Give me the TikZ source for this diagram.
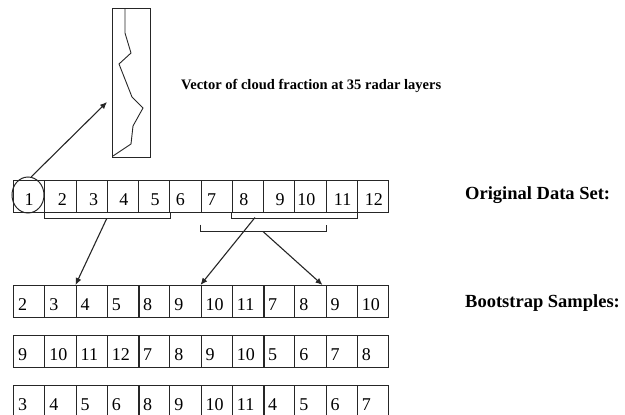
\documentclass[tikz,border=0pt]{standalone}
\usepackage{fontspec}
\setmainfont{Liberation Serif}
\usetikzlibrary{shapes.geometric,arrows.meta}
\begin{document}
\begin{tikzpicture}[x=1pt,y=-1pt,
  ln/.style={draw=black!85,line width=1pt},
  cell/.style={ln,minimum width=31.25pt,minimum height=31.5pt,inner sep=0pt,anchor=north west},
  num/.style={font=\fontsize{18}{18}\selectfont,inner sep=0pt},
  lab/.style={font=\bfseries\fontsize{18.5}{20}\selectfont,anchor=west,inner sep=0pt},
  arr/.style={ln,line width=1.1pt,-{Latex[length=7pt,width=6pt]}}]
\useasboundingbox (0,0) rectangle (625,415);
% vector box
\node[ln,minimum width=38pt,minimum height=149pt,inner sep=0pt,anchor=north west] (vec) at (112,8) {};
\draw[ln,line width=0.9pt] (125,8) -- (125,33) -- (131,53) -- (119,64) -- (132,97) -- (143,108) -- (133,126) -- (131,144) -- (113,156);
\node[font=\bfseries\fontsize{14.5}{16}\selectfont,anchor=west,inner sep=0pt] (vt) at (181,86) {Vector of cloud fraction at 35 radar layers};
% original row
\foreach \i in {1,...,12} \node[cell] (o\i) at ({13+31.25*(\i-1)},180) {};
\foreach \i/\t/\dx in {1/1/0,2/2/2,3/3/2,4/4/1,5/5/1,6/6/-5,7/7/-5,8/8/-4,9/9/1,10/10/-4,11/11/1,12/12/1}
  \node[num] (on\i) at ([xshift=\dx pt,yshift=-3pt]o\i.center) {\t};
\node[ellipse,ln,minimum width=32pt,minimum height=36pt,inner sep=0pt] (c1) at (28,195) {};
\coordinate (vtip) at (107,102);
\draw[arr] (c1.80) -- (vtip);
% brackets
\draw[ln] (o2.south west) -- ++(0,6) -| (o5.south east);
\draw[ln] (o8.south west) -- ++(0,6) -| (o11.south east);
\draw[ln] ([yshift=-12pt]o7.south west) -- ++(0,7) -| ([yshift=-12pt]o10.south east);
\coordinate (s1) at ([yshift=-6pt]o4.south west);
\coordinate (s2) at (255,217.5);
\coordinate (s3) at ([yshift=-19pt]o9.south west);
% bootstrap rows
\foreach \r/\y/\vals in {a/285/{2,3,4,5,8,9,10,11,7,8,9,10},b/335/{9,10,11,12,7,8,9,10,5,6,7,8},c/385/{3,4,5,6,8,9,10,11,4,5,6,7}}{
  \foreach \t [count=\i] in \vals {
    \node[cell] (\r\i) at ({13+31.25*(\i-1)},\y) {};
    \node[num,anchor=west] (n\r\i) at ([xshift=5pt,yshift=-3pt]\r\i.west) {\t};
  }
  \draw[ln,line width=1.6pt] (\r4.north east) -- (\r4.south east);
  \draw[ln,line width=1.6pt] (\r8.north east) -- (\r8.south east);
}
\draw[arr] (s1) -- (a3.north west);
\draw[arr] (s2) -- (a7.north west);
\draw[arr] (s3) -- ([xshift=-3pt]a11.north west);
\node[lab] (orig) at (465,195) {Original Data Set:};
\node[lab] (boot) at (465,303) {Bootstrap Samples:};
\end{tikzpicture}
\end{document}
